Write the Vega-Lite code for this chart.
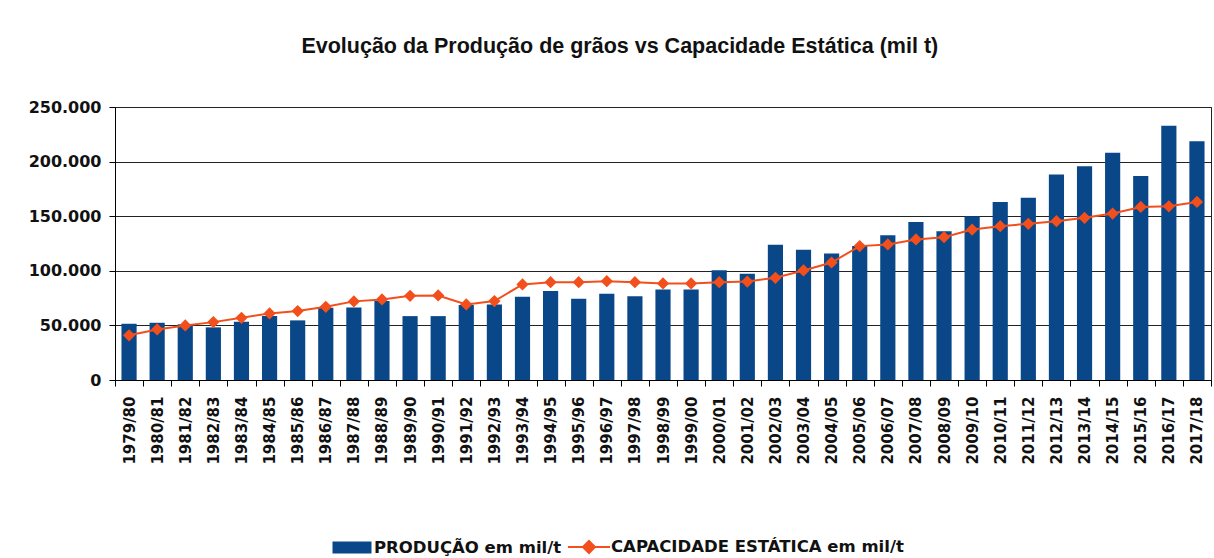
{
  "$schema": "https://vega.github.io/schema/vega-lite/v6.json",
  "width": 1096,
  "height": 273,
  "autosize": {"type": "none"},
  "padding": {"left": 115, "top": 107, "right": 3, "bottom": 178},
  "background": "white",
  "title": {
    "text": "Evolução da Produção de grãos vs Capacidade Estática (mil t)",
    "font": "Liberation Sans",
    "fontSize": 21.5,
    "fontWeight": "bold",
    "color": "#111111",
    "anchor": "middle",
    "frame": "bounds",
    "offset": 42
  },
  "data": {
    "values": [
      {"ano": "1979/80", "producao": 51500, "capacidade": 40900},
      {"ano": "1980/81", "producao": 52400, "capacidade": 46300},
      {"ano": "1981/82", "producao": 51000, "capacidade": 50000},
      {"ano": "1982/83", "producao": 48200, "capacidade": 53000},
      {"ano": "1983/84", "producao": 53400, "capacidade": 57000},
      {"ano": "1984/85", "producao": 58500, "capacidade": 61000},
      {"ano": "1985/86", "producao": 54600, "capacidade": 63100},
      {"ano": "1986/87", "producao": 66200, "capacidade": 67000},
      {"ano": "1987/88", "producao": 66500, "capacidade": 72000},
      {"ano": "1988/89", "producao": 72300, "capacidade": 73800},
      {"ano": "1989/90", "producao": 58500, "capacidade": 77100},
      {"ano": "1990/91", "producao": 58500, "capacidade": 77400},
      {"ano": "1991/92", "producao": 68600, "capacidade": 69200},
      {"ano": "1992/93", "producao": 69200, "capacidade": 72300},
      {"ano": "1993/94", "producao": 76200, "capacidade": 87500},
      {"ano": "1994/95", "producao": 81400, "capacidade": 89600},
      {"ano": "1995/96", "producao": 74400, "capacidade": 89600},
      {"ano": "1996/97", "producao": 79000, "capacidade": 90500},
      {"ano": "1997/98", "producao": 76800, "capacidade": 89600},
      {"ano": "1998/99", "producao": 82900, "capacidade": 88400},
      {"ano": "1999/00", "producao": 82900, "capacidade": 88400},
      {"ano": "2000/01", "producao": 100600, "capacidade": 89600},
      {"ano": "2001/02", "producao": 97300, "capacidade": 90200},
      {"ano": "2002/03", "producao": 123800, "capacidade": 93600},
      {"ano": "2003/04", "producao": 119200, "capacidade": 100300},
      {"ano": "2004/05", "producao": 115900, "capacidade": 107600},
      {"ano": "2005/06", "producao": 122600, "capacidade": 122600},
      {"ano": "2006/07", "producao": 132600, "capacidade": 124100},
      {"ano": "2007/08", "producao": 144800, "capacidade": 128700},
      {"ano": "2008/09", "producao": 136300, "capacidade": 130800},
      {"ano": "2009/10", "producao": 150000, "capacidade": 137800},
      {"ano": "2010/11", "producao": 163100, "capacidade": 140900},
      {"ano": "2011/12", "producao": 166800, "capacidade": 143000},
      {"ano": "2012/13", "producao": 188100, "capacidade": 145400},
      {"ano": "2013/14", "producao": 195700, "capacidade": 148500},
      {"ano": "2014/15", "producao": 208200, "capacidade": 152400},
      {"ano": "2015/16", "producao": 186900, "capacidade": 158500},
      {"ano": "2016/17", "producao": 232900, "capacidade": 159100},
      {"ano": "2017/18", "producao": 218600, "capacidade": 163100}
    ]
  },
  "encoding": {
    "x": {
      "field": "ano",
      "type": "nominal",
      "sort": null,
      "scale": {"paddingInner": 0, "paddingOuter": 0},
      "axis": {
        "title": null,
        "labelAngle": -90,
        "labelFont": "DejaVu Sans",
        "labelFontWeight": "bold",
        "labelFontSize": 15,
        "labelColor": "#111111",
        "tickBand": "extent",
        "tickSize": 6,
        "tickColor": "#000000",
        "labelPadding": 10,
        "domainColor": "#000000",
        "grid": false
      }
    }
  },
  "layer": [
    {
      "mark": {"type": "bar", "width": {"band": 0.54}},
      "encoding": {
        "y": {
          "field": "producao",
          "type": "quantitative",
          "scale": {"domain": [0, 250000], "nice": false},
          "axis": {
            "title": null,
            "values": [0, 50000, 100000, 150000, 200000, 250000],
            "format": ",d",
            "labelFont": "DejaVu Sans",
            "labelFontWeight": "bold",
            "labelFontSize": 16,
            "labelColor": "#111111",
            "tickSize": 6,
            "tickColor": "#000000",
            "labelPadding": 8,
            "domainColor": "#000000",
            "gridColor": "#222222",
            "gridOpacity": 1
          }
        },
        "color": {
          "datum": "PRODUÇÃO em mil/t",
          "scale": {
            "domain": ["PRODUÇÃO em mil/t", "CAPACIDADE ESTÁTICA em mil/t"],
            "range": ["#0A4788", "#F24F1C"]
          },
          "legend": {
            "orient": "none",
            "legendX": 216,
            "legendY": 419,
            "direction": "horizontal",
            "title": null,
            "padding": 0,
            "symbolSize": 1600,
            "labelFont": "DejaVu Sans",
            "labelFontWeight": "bold",
            "labelFontSize": 16.5,
            "labelColor": "#111111",
            "labelOffset": 1,
            "columnPadding": 2,
            "labelLimit": 400,
            "encode": {
              "symbols": {
                "update": {
                  "shape": {"signal": "datum.value === 'PRODUÇÃO em mil/t' ? 'M-0.925,-0.25H0.925V0.25H-0.925Z' : 'M-1.05,0H1.05M-0.3,0L0,-0.3L0.3,0L0,0.3Z'"},
                  "fill": {"signal": "datum.value === 'PRODUÇÃO em mil/t' ? '#0A4788' : '#F24F1C'"},
                  "stroke": {"signal": "datum.value === 'PRODUÇÃO em mil/t' ? 'transparent' : '#F24F1C'"},
                  "strokeWidth": {"value": 2},
                  "opacity": {"value": 1}
                }
              }
            }
          }
        }
      }
    },
    {
      "mark": {"type": "line", "strokeWidth": 2},
      "encoding": {
        "y": {"field": "capacidade", "type": "quantitative"},
        "color": {"datum": "CAPACIDADE ESTÁTICA em mil/t"}
      }
    },
    {
      "mark": {"type": "point", "shape": "diamond", "size": 150, "filled": true, "opacity": 1, "color": "#F24F1C"},
      "encoding": {
        "y": {"field": "capacidade", "type": "quantitative"}
      }
    }
  ],
  "config": {
    "locale": {
      "number": {"decimal": ",", "thousands": ".", "grouping": [3], "currency": ["R$", ""]}
    },
    "view": {"stroke": "#222222"}
  }
}
